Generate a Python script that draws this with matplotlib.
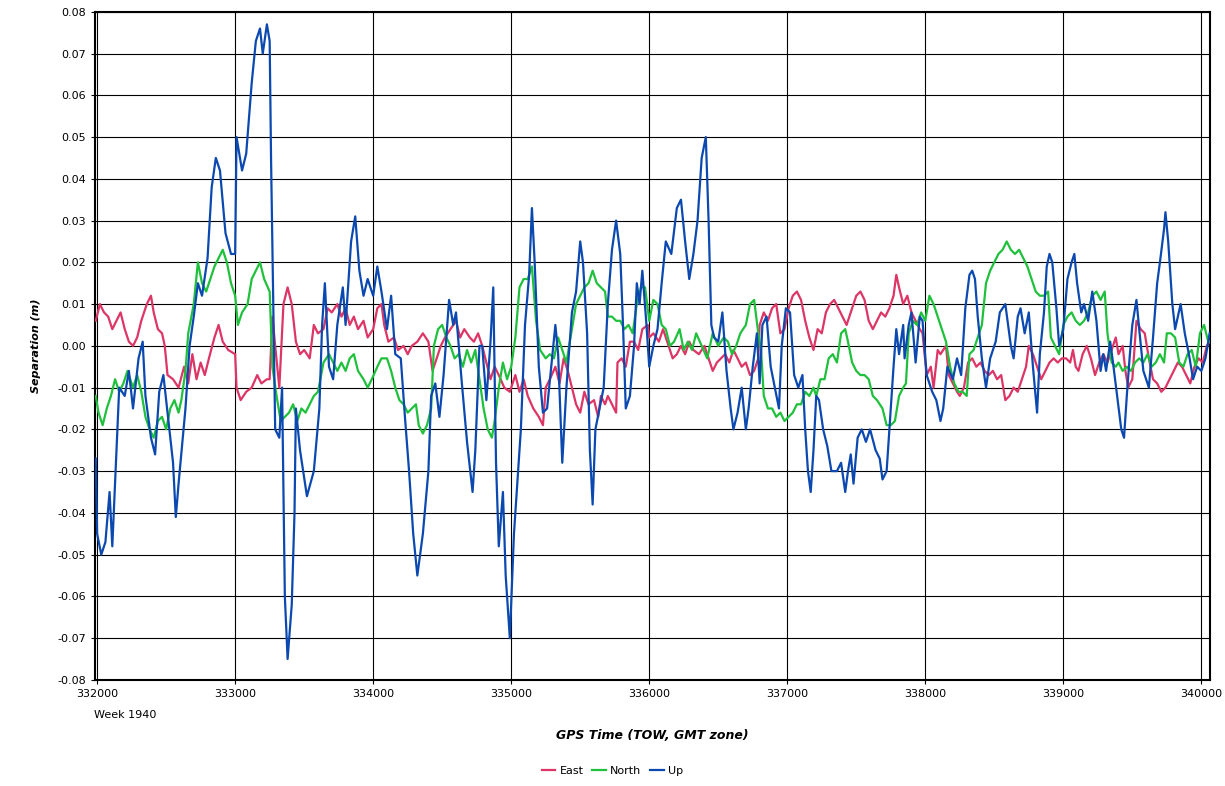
import matplotlib
matplotlib.use("Agg")
import matplotlib.pyplot as plt

# GPS time of week (s) and separation (m)
up_t = [331990, 332000, 332030, 332060, 332090, 332110, 332140, 332160, 332200, 332230, 332260, 332300, 332330, 332350,
        332390, 332420, 332450, 332480, 332520, 332550, 332570, 332590, 332640, 332670, 332700, 332730, 332760, 332800,
        332830, 332860, 332890, 332930, 332970, 333000, 333010, 333050, 333080, 333120, 333150, 333180, 333200, 333230,
        333250, 333260, 333290, 333320, 333340, 333360, 333380, 333410, 333430, 333440, 333470, 333520, 333570, 333610,
        333630, 333650, 333680, 333710, 333740, 333780, 333800, 333840, 333870, 333900, 333930, 333960, 334000, 334030,
        334060, 334100, 334130, 334160, 334200, 334230, 334260, 334290, 334320, 334360, 334400, 334420, 334450, 334480,
        334510, 334550, 334580, 334600, 334640, 334680, 334720, 334740, 334770, 334790, 334820, 334850, 334870, 334890,
        334910, 334940, 334960, 334990, 335020, 335050, 335070, 335100, 335130, 335150, 335170, 335200, 335230, 335260,
        335290, 335320, 335340, 335370, 335400, 335440, 335470, 335500, 335520, 335550, 335570, 335590, 335610, 335640,
        335670, 335700, 335730, 335760, 335790, 335810, 335830, 335860, 335890, 335910, 335930, 335950, 335980, 336000,
        336030, 336060, 336090, 336120, 336160, 336200, 336230, 336260, 336290, 336320, 336350, 336380, 336410, 336430,
        336450, 336470, 336500, 336530, 336560, 336590, 336610, 336640, 336670, 336700, 336720, 336750, 336780, 336800,
        336820, 336850, 336880, 336910, 336940, 336960, 336990, 337020, 337050, 337080, 337110, 337130, 337150, 337170,
        337190, 337210, 337230, 337260, 337290, 337320, 337360, 337390, 337420, 337440, 337460, 337480, 337510, 337540,
        337570, 337600, 337640, 337670, 337690, 337720, 337740, 337770, 337790, 337810, 337840, 337850, 337880, 337900,
        337930, 337960, 337980, 338010, 338050, 338080, 338110, 338130, 338160, 338200, 338230, 338260, 338290, 338320,
        338340, 338360, 338380, 338410, 338440, 338470, 338510, 338540, 338580, 338620, 338640, 338670, 338690, 338720,
        338750, 338780, 338810, 338830, 338860, 338880, 338900, 338920, 338950, 338970, 339000, 339030, 339060, 339080,
        339100, 339130, 339150, 339180, 339210, 339240, 339270, 339290, 339310, 339340, 339360, 339390, 339420, 339440,
        339460, 339480, 339500, 339530, 339550, 339580, 339620, 339650, 339680, 339700, 339730, 339740, 339760, 339790,
        339810, 339830, 339850, 339880, 339910, 339940, 339970, 340000, 340030, 340060]
up_v = [-0.027, -0.045, -0.050, -0.047, -0.035, -0.048, -0.025, -0.010, -0.012, -0.006, -0.015, -0.003, 0.001, -0.012,
        -0.022, -0.026, -0.011, -0.007, -0.019, -0.028, -0.041, -0.033, -0.015, 0.000, 0.007, 0.015, 0.012, 0.021,
        0.038, 0.045, 0.042, 0.027, 0.022, 0.022, 0.050, 0.042, 0.046, 0.063, 0.073, 0.076, 0.070, 0.077,
        0.073, 0.045, -0.020, -0.022, -0.010, -0.060, -0.075, -0.062, -0.040, -0.015, -0.025, -0.036, -0.030, -0.015,
        0.005, 0.015, -0.005, -0.008, 0.005, 0.014, 0.005, 0.025, 0.031, 0.018, 0.012, 0.016, 0.012, 0.019,
        0.013, 0.004, 0.012, -0.002, -0.003, -0.017, -0.030, -0.045, -0.055, -0.045, -0.030, -0.012, -0.009, -0.017,
        -0.007, 0.011, 0.005, 0.008, -0.008, -0.023, -0.035, -0.025, 0.000, 0.000, -0.013, 0.001, 0.014, -0.028,
        -0.048, -0.035, -0.055, -0.070, -0.045, -0.030, -0.020, 0.005, 0.017, 0.033, 0.020, -0.005, -0.016, -0.015,
        -0.005, 0.005, -0.002, -0.028, -0.010, 0.008, 0.013, 0.025, 0.020, 0.003, -0.025, -0.038, -0.020, -0.015,
        -0.010, 0.010, 0.023, 0.030, 0.022, 0.005, -0.015, -0.012, 0.000, 0.015, 0.010, 0.018, 0.005, -0.005,
        0.000, 0.004, 0.015, 0.025, 0.022, 0.033, 0.035, 0.025, 0.016, 0.022, 0.030, 0.045, 0.050, 0.030,
        0.005, 0.002, 0.001, 0.008, -0.006, -0.015, -0.020, -0.016, -0.010, -0.020, -0.015, -0.005, 0.003, -0.009,
        0.005, 0.007, -0.005, -0.010, -0.015, 0.000, 0.009, 0.008, -0.007, -0.010, -0.007, -0.020, -0.030, -0.035,
        -0.025, -0.012, -0.013, -0.020, -0.024, -0.030, -0.030, -0.028, -0.035, -0.030, -0.026, -0.033, -0.022, -0.020,
        -0.023, -0.020, -0.025, -0.027, -0.032, -0.030, -0.020, -0.005, 0.004, -0.002, 0.005, -0.003, 0.005, 0.008,
        -0.004, 0.007, 0.006, -0.007, -0.011, -0.013, -0.018, -0.015, -0.005, -0.008, -0.003, -0.007, 0.009, 0.017,
        0.018, 0.016, 0.007, -0.003, -0.010, -0.003, 0.001, 0.008, 0.010, 0.000, -0.003, 0.007, 0.009, 0.003,
        0.008, -0.005, -0.016, -0.002, 0.008, 0.019, 0.022, 0.020, 0.009, 0.000, 0.004, 0.016, 0.020, 0.022,
        0.015, 0.008, 0.010, 0.006, 0.013, 0.006, -0.006, -0.002, -0.006, 0.001, -0.004, -0.012, -0.020, -0.022,
        -0.012, -0.003, 0.005, 0.011, 0.004, -0.006, -0.010, 0.002, 0.015, 0.020, 0.028, 0.032, 0.025, 0.010,
        0.004, 0.007, 0.010, 0.003, -0.002, -0.008, -0.005, -0.006, -0.003, 0.003]

east_t = [331990, 332020, 332050, 332080, 332110, 332140, 332170, 332200, 332230, 332260, 332290, 332320, 332360, 332390,
          332410, 332440, 332470, 332490, 332510, 332550, 332590, 332630, 332660, 332690, 332720, 332750, 332780, 332810,
          332850, 332880, 332910, 332950, 333000, 333010, 333040, 333080, 333120, 333160, 333190, 333230, 333250, 333270,
          333290, 333320, 333350, 333380, 333410, 333440, 333470, 333500, 333540, 333570, 333600, 333640, 333670, 333700,
          333740, 333770, 333800, 333830, 333860, 333890, 333930, 333960, 334000, 334030, 334060, 334080, 334110, 334150,
          334180, 334220, 334250, 334280, 334320, 334360, 334400, 334430, 334460, 334490, 334520, 334560, 334600, 334630,
          334660, 334700, 334730, 334760, 334790, 334820, 334850, 334880, 334910, 334950, 334990, 335030, 335060, 335090,
          335120, 335160, 335200, 335230, 335250, 335280, 335320, 335350, 335380, 335410, 335440, 335470, 335500, 335530,
          335560, 335600, 335630, 335650, 335680, 335700, 335730, 335760, 335770, 335800, 335830, 335860, 335890, 335920,
          335950, 335990, 336000, 336030, 336070, 336100, 336140, 336170, 336200, 336230, 336260, 336290, 336320, 336360,
          336400, 336430, 336460, 336490, 336520, 336550, 336580, 336610, 336640, 336670, 336700, 336730, 336760, 336790,
          336800, 336830, 336860, 336890, 336920, 336950, 336980, 337010, 337040, 337070, 337100, 337130, 337160, 337190,
          337220, 337250, 337280, 337310, 337340, 337370, 337400, 337430, 337460, 337500, 337530, 337560, 337590, 337620,
          337650, 337680, 337710, 337740, 337770, 337790, 337810, 337840, 337870, 337900, 337930, 337960, 337980, 338010,
          338040, 338060, 338090, 338110, 338150, 338170, 338200, 338230, 338250, 338280, 338310, 338340, 338370, 338400,
          338430, 338460, 338490, 338520, 338550, 338580, 338610, 338640, 338670, 338700, 338730, 338750, 338780, 338810,
          338840, 338870, 338900, 338930, 338960, 338990, 339020, 339050, 339070, 339090, 339110, 339140, 339170, 339200,
          339230, 339260, 339290, 339320, 339350, 339380, 339400, 339430, 339450, 339470, 339500, 339530, 339560, 339590,
          339620, 339650, 339680, 339710, 339740, 339770, 339800, 339830, 339860, 339890, 339920, 339950, 339980, 340010,
          340040, 340060]
east_v = [0.006, 0.010, 0.008, 0.007, 0.004, 0.006, 0.008, 0.004, 0.001, 0.000, 0.002, 0.006, 0.010, 0.012,
          0.008, 0.004, 0.003, 0.000, -0.007, -0.008, -0.010, -0.005, -0.009, -0.002, -0.008, -0.004, -0.007, -0.003,
          0.002, 0.005, 0.001, -0.001, -0.002, -0.010, -0.013, -0.011, -0.010, -0.007, -0.009, -0.008, -0.008, 0.007,
          0.000, -0.010, 0.010, 0.014, 0.010, 0.001, -0.002, -0.001, -0.003, 0.005, 0.003, 0.004, 0.009, 0.008,
          0.010, 0.007, 0.009, 0.005, 0.007, 0.004, 0.006, 0.002, 0.004, 0.009, 0.010, 0.005, 0.001, 0.002,
          -0.001, 0.000, -0.002, 0.000, 0.001, 0.003, 0.001, -0.006, -0.003, 0.000, 0.002, 0.004, 0.006, 0.002,
          0.004, 0.002, 0.001, 0.003, 0.000, -0.004, -0.008, -0.005, -0.007, -0.010, -0.011, -0.007, -0.011, -0.008,
          -0.012, -0.015, -0.017, -0.019, -0.010, -0.008, -0.005, -0.009, -0.003, -0.006, -0.010, -0.014, -0.016, -0.011,
          -0.014, -0.013, -0.017, -0.012, -0.014, -0.012, -0.014, -0.016, -0.004, -0.003, -0.005, 0.001, 0.001, -0.001,
          0.004, 0.005, 0.002, 0.003, 0.001, 0.004, 0.000, -0.003, -0.002, 0.000, -0.002, 0.001, -0.001, -0.002,
          0.000, -0.003, -0.006, -0.004, -0.003, -0.002, -0.004, -0.001, -0.003, -0.005, -0.004, -0.007, -0.006, -0.003,
          0.005, 0.008, 0.006, 0.009, 0.010, 0.003, 0.004, 0.009, 0.012, 0.013, 0.011, 0.006, 0.002, -0.001,
          0.004, 0.003, 0.008, 0.010, 0.011, 0.009, 0.007, 0.005, 0.008, 0.012, 0.013, 0.011, 0.006, 0.004,
          0.006, 0.008, 0.007, 0.009, 0.012, 0.017, 0.014, 0.010, 0.012, 0.008, 0.006, 0.004, 0.003, -0.007,
          -0.005, -0.010, -0.001, -0.002, 0.000, -0.007, -0.009, -0.011, -0.012, -0.010, -0.004, -0.003, -0.005, -0.004,
          -0.006, -0.007, -0.006, -0.008, -0.007, -0.013, -0.012, -0.010, -0.011, -0.008, -0.005, 0.000, -0.002, -0.005,
          -0.008, -0.006, -0.004, -0.003, -0.004, -0.003, -0.003, -0.004, -0.001, -0.005, -0.006, -0.002, 0.000, -0.003,
          -0.007, -0.004, -0.002, -0.004, -0.001, 0.002, -0.002, 0.000, -0.006, -0.010, -0.008, 0.006, 0.004, 0.003,
          -0.003, -0.008, -0.009, -0.011, -0.010, -0.008, -0.006, -0.004, -0.005, -0.007, -0.009, -0.005, -0.003, -0.004,
          0.000, 0.001]

north_t = [331990, 332010, 332040, 332070, 332100, 332130, 332160, 332190, 332220, 332260, 332290, 332320, 332350, 332380,
           332410, 332440, 332470, 332500, 332530, 332560, 332590, 332610, 332640, 332660, 332700, 332730, 332760, 332790,
           332820, 332850, 332880, 332910, 332940, 332970, 333000, 333020, 333050, 333090, 333120, 333150, 333180, 333210,
           333250, 333270, 333300, 333330, 333360, 333390, 333420, 333450, 333480, 333510, 333540, 333570, 333600, 333640,
           333680, 333710, 333740, 333770, 333800, 333830, 333860, 333890, 333930, 333960, 333990, 334030, 334060, 334100,
           334130, 334160, 334190, 334220, 334250, 334280, 334310, 334330, 334360, 334390, 334420, 334440, 334470, 334500,
           334530, 334560, 334590, 334620, 334650, 334680, 334710, 334740, 334770, 334800, 334830, 334860, 334880, 334910,
           334940, 334970, 335000, 335030, 335060, 335090, 335120, 335150, 335180, 335210, 335250, 335280, 335310, 335340,
           335370, 335400, 335430, 335470, 335500, 335530, 335560, 335590, 335620, 335650, 335680, 335700, 335730, 335760,
           335790, 335820, 335850, 335880, 335910, 335940, 335970, 336000, 336030, 336060, 336090, 336120, 336150, 336180,
           336220, 336250, 336280, 336310, 336340, 336380, 336420, 336460, 336500, 336540, 336570, 336600, 336630, 336660,
           336700, 336730, 336760, 336790, 336810, 336830, 336860, 336890, 336920, 336950, 336980, 337010, 337040, 337070,
           337100, 337130, 337160, 337190, 337210, 337240, 337270, 337300, 337330, 337360, 337390, 337420, 337440, 337470,
           337500, 337530, 337560, 337590, 337620, 337650, 337690, 337720, 337750, 337780, 337810, 337840, 337860, 337880,
           337910, 337940, 337970, 338000, 338030, 338060, 338090, 338120, 338150, 338180, 338210, 338240, 338270, 338300,
           338320, 338350, 338380, 338410, 338440, 338470, 338500, 338530, 338560, 338590, 338620, 338650, 338680, 338710,
           338740, 338770, 338800, 338830, 338860, 338890, 338910, 338940, 338970, 339000, 339030, 339060, 339090, 339120,
           339150, 339180, 339210, 339240, 339270, 339300, 339320, 339350, 339380, 339400, 339430, 339460, 339490, 339520,
           339550, 339580, 339610, 339640, 339670, 339700, 339730, 339750, 339780, 339810, 339840, 339870, 339900, 339930,
           339960, 339990, 340020, 340050, 340065]
north_v = [-0.012, -0.016, -0.019, -0.015, -0.012, -0.008, -0.011, -0.009, -0.006, -0.010, -0.007, -0.011, -0.017, -0.020,
           -0.022, -0.018, -0.017, -0.020, -0.015, -0.013, -0.016, -0.013, -0.006, 0.003, 0.010, 0.020, 0.015, 0.013,
           0.016, 0.019, 0.021, 0.023, 0.020, 0.015, 0.012, 0.005, 0.008, 0.010, 0.016, 0.018, 0.020, 0.016,
           0.013, -0.005, -0.012, -0.018, -0.017, -0.016, -0.014, -0.018, -0.015, -0.016, -0.014, -0.012, -0.011, -0.004,
           -0.002, -0.004, -0.006, -0.004, -0.006, -0.003, -0.002, -0.006, -0.008, -0.010, -0.008, -0.005, -0.003, -0.003,
           -0.006, -0.010, -0.013, -0.014, -0.016, -0.015, -0.014, -0.019, -0.021, -0.019, -0.015, 0.000, 0.004, 0.005,
           0.002, 0.000, -0.003, -0.002, -0.005, -0.001, -0.004, -0.001, -0.008, -0.015, -0.020, -0.022, -0.018, -0.010,
           -0.004, -0.008, -0.005, 0.002, 0.014, 0.016, 0.016, 0.019, 0.006, -0.001, -0.003, -0.002, -0.003, 0.002,
           -0.001, -0.004, 0.002, 0.010, 0.012, 0.014, 0.015, 0.018, 0.015, 0.014, 0.013, 0.007, 0.007, 0.006,
           0.006, 0.004, 0.005, 0.003, 0.010, 0.014, 0.014, 0.006, 0.011, 0.010, 0.005, 0.004, 0.000, 0.001,
           0.004, -0.001, 0.001, -0.001, 0.003, 0.000, -0.003, 0.003, 0.000, 0.002, 0.001, -0.002, 0.000, 0.003,
           0.005, 0.010, 0.011, 0.003, -0.001, -0.012, -0.015, -0.015, -0.017, -0.016, -0.018, -0.017, -0.016, -0.014,
           -0.014, -0.011, -0.012, -0.010, -0.012, -0.008, -0.008, -0.003, -0.002, -0.004, 0.003, 0.004, 0.001, -0.004,
           -0.006, -0.007, -0.007, -0.008, -0.012, -0.013, -0.015, -0.019, -0.019, -0.018, -0.012, -0.010, -0.009, 0.003,
           0.006, 0.005, 0.008, 0.006, 0.012, 0.010, 0.007, 0.004, 0.001, -0.005, -0.009, -0.011, -0.011, -0.012,
           -0.002, -0.001, 0.002, 0.005, 0.015, 0.018, 0.020, 0.022, 0.023, 0.025, 0.023, 0.022, 0.023, 0.021,
           0.019, 0.016, 0.013, 0.012, 0.012, 0.013, 0.002, 0.000, -0.002, 0.005, 0.007, 0.008, 0.006, 0.005,
           0.006, 0.008, 0.012, 0.013, 0.011, 0.013, 0.003, -0.004, -0.005, -0.004, -0.006, -0.005, -0.006, -0.004,
           -0.003, -0.004, -0.002, -0.005, -0.004, -0.002, -0.004, 0.003, 0.003, 0.002, -0.004, -0.005, -0.002, -0.001,
           -0.005, 0.003, 0.005, 0.001, 0.001]

x_ticks = [332000, 333000, 334000, 335000, 336000, 337000, 338000, 339000, 340000]
y_ticks = [-0.08, -0.07, -0.06, -0.05, -0.04, -0.03, -0.02, -0.01, 0.00, 0.01, 0.02, 0.03, 0.04, 0.05, 0.06, 0.07, 0.08]

fig = plt.figure(figsize=(12.25, 7.86), dpi=100)
ax = fig.add_axes([0.0776, 0.135, 0.9104, 0.850])

ax.plot(east_t, east_v, color='#dc3566', lw=1.6, label='East', zorder=3)
ax.plot(north_t, north_v, color='#1fc03c', lw=1.6, label='North', zorder=4)
ax.plot(up_t, up_v, color='#0b49b0', lw=1.6, label='Up', zorder=5)

ax.set_xlim(331985, 340065)
ax.set_ylim(-0.08, 0.08)
ax.set_xticks(x_ticks)
ax.set_xticklabels([str(t) for t in x_ticks])
ax.set_yticks(y_ticks)
ax.set_yticklabels(['%.2f' % v for v in y_ticks])
ax.tick_params(labelsize=8, length=3)
ax.grid(True, color='black', lw=0.8)
for s in ax.spines.values():
    s.set_linewidth(1.5)

ax.text(331980, -0.0885, 'Week 1940', fontsize=8, ha='left', va='center')
ax.set_xlabel('GPS Time (TOW, GMT zone)', fontsize=9, fontweight='bold', style='italic', labelpad=22)
ax.set_ylabel('Separation (m)', fontsize=8, fontweight='bold', style='italic', labelpad=12)

fig.legend(loc='lower center', bbox_to_anchor=(0.5, 0.0), ncol=3, frameon=False, fontsize=8,
           handlelength=1.2, columnspacing=0.8, handletextpad=0.4)

fig.savefig('out.png', dpi=100)
